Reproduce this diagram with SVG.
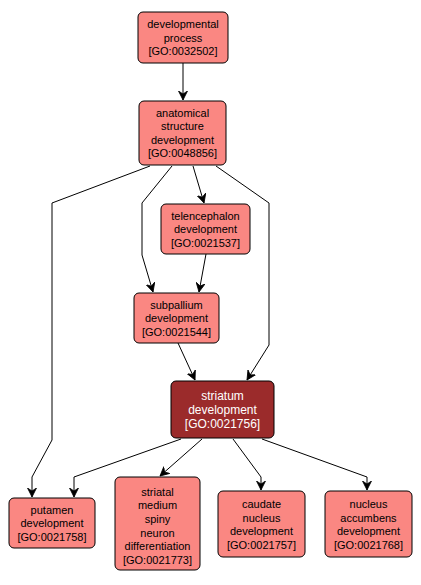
<svg xmlns="http://www.w3.org/2000/svg" width="421" height="585" viewBox="0 0 421 585">
<style>
.n rect{fill:#fa8782;stroke:#000;stroke-width:1}
.d rect{fill:#9b2b2b;stroke:#000;stroke-width:1}
text{font-family:"Liberation Sans",Arial,sans-serif;font-size:11px;text-anchor:middle;fill:#000}
.d text{fill:#fff;font-size:12px}
.e path{fill:none;stroke:#000;stroke-width:1;marker-end:url(#a)}
</style>
<defs>
<marker id="a" markerWidth="10" markerHeight="10" refX="9" refY="5" orient="auto" markerUnits="userSpaceOnUse">
<path d="M0,0.5 L9,5 L0,9.5 L3,5 Z" fill="#000" stroke="#000" stroke-width="0.8"/>
</marker>
</defs>
<g class="e">
<path d="M183,63 L183,100"/>
<path d="M150,166 L52,203 L52,440 L32,477 L32,497"/>
<path d="M193,166 L204,203"/>
<path d="M172,166 L142,203 L142,255 L153,292"/>
<path d="M216,166 L269,203 L269,345 L247,380"/>
<path d="M206,254 L199,292"/>
<path d="M178,343 L195,380"/>
<path d="M181,439 L74,477 L74,497"/>
<path d="M202,439 L160,476"/>
<path d="M233,439 L261,477 L261,490"/>
<path d="M262,439 L367,477 L367,490"/>
</g>
<g id="n1" class="n"><rect x="138" y="12" width="90" height="51" rx="5"/>
<text x="183" y="28">developmental</text><text x="183" y="41.5">process</text><text x="183" y="55">[GO:0032502]</text></g>
<g id="n2" class="n"><rect x="139" y="101" width="87" height="64" rx="5"/>
<text x="182.5" y="116.5">anatomical</text><text x="182.5" y="130">structure</text><text x="182.5" y="143.5">development</text><text x="182.5" y="157">[GO:0048856]</text></g>
<g id="n3" class="n"><rect x="161" y="204" width="89" height="50" rx="5"/>
<text x="205.5" y="219.5">telencephalon</text><text x="205.5" y="233">development</text><text x="205.5" y="246.5">[GO:0021537]</text></g>
<g id="n4" class="n"><rect x="134" y="293" width="85" height="50" rx="5"/>
<text x="176.5" y="308.5">subpallium</text><text x="176.5" y="322">development</text><text x="176.5" y="335.5">[GO:0021544]</text></g>
<g id="n5" class="d"><rect x="171" y="381" width="103" height="57" rx="5"/>
<text x="222.5" y="400">striatum</text><text x="222.5" y="414">development</text><text x="222.5" y="428">[GO:0021756]</text></g>
<g id="n6" class="n"><rect x="9" y="498" width="86" height="50" rx="5"/>
<text x="52" y="513.5">putamen</text><text x="52" y="527">development</text><text x="52" y="540.5">[GO:0021758]</text></g>
<g id="n7" class="n"><rect x="115" y="477" width="85" height="93" rx="5"/>
<text x="157.5" y="495.5">striatal</text><text x="157.5" y="509.2">medium</text><text x="157.5" y="522.9">spiny</text><text x="157.5" y="536.6">neuron</text><text x="157.5" y="550.3">differentiation</text><text x="157.5" y="564">[GO:0021773]</text></g>
<g id="n8" class="n"><rect x="218" y="491" width="87" height="66" rx="5"/>
<text x="261.5" y="508">caudate</text><text x="261.5" y="521.5">nucleus</text><text x="261.5" y="535">development</text><text x="261.5" y="548.5">[GO:0021757]</text></g>
<g id="n9" class="n"><rect x="325" y="491" width="87" height="66" rx="5"/>
<text x="368.5" y="508">nucleus</text><text x="368.5" y="521.5">accumbens</text><text x="368.5" y="535">development</text><text x="368.5" y="548.5">[GO:0021768]</text></g>
</svg>
